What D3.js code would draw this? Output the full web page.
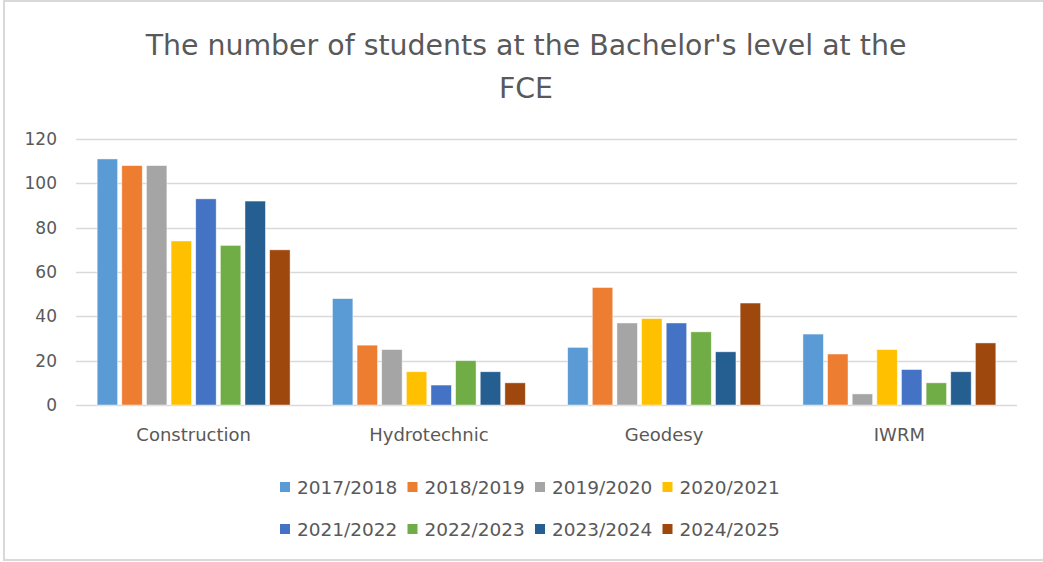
<!DOCTYPE html>
<html>
<head>
<meta charset="utf-8">
<script src="https://cdn.jsdelivr.net/npm/d3@7"></script>
<style>
  html, body { margin: 0; padding: 0; background: #fff; }
  svg text { font-family: "DejaVu Sans", sans-serif; fill: #595959; }
</style>
</head>
<body>
<div id="chart"></div>
<script>
(function() {
"use strict";

var categories = ["Construction", "Hydrotechnic", "Geodesy", "IWRM"];
var years = ["2017/2018", "2018/2019", "2019/2020", "2020/2021",
  "2021/2022", "2022/2023", "2023/2024", "2024/2025"];
// one list per year, values in category order
var v2017 = [111, 48, 26, 32];
var v2018 = [108, 27, 53, 23];
var v2019 = [108, 25, 37, 5];
var v2020 = [74, 15, 39, 25];
var v2021 = [93, 9, 37, 16];
var v2022 = [72, 20, 33, 10];
var v2023 = [92, 15, 24, 15];
var v2024 = [70, 10, 46, 28];
var yTicks = [0, 20, 40, 60, 80, 100, 120];
var colors = ["#5B9BD5", "#ED7D31", "#A5A5A5", "#FFC000",
  "#4472C4", "#70AD47", "#255E91", "#9E480E"];

var seriesValues = [v2017, v2018, v2019, v2020, v2021, v2022, v2023, v2024];

var W = 1043, H = 562;
var plot = {left: 76, right: 1017, top: 139, bottom: 405};

var svg = d3.select("#chart").append("svg")
  .attr("width", W)
  .attr("height", H);

// chart frame (right edge runs off the picture)
svg.append("rect")
  .attr("x", 4).attr("y", 1)
  .attr("width", 1050).attr("height", 559)
  .attr("fill", "#fff")
  .attr("stroke", "#d9d9d9")
  .attr("stroke-width", 2);

// title
var title = svg.append("text")
  .attr("text-anchor", "middle")
  .attr("font-size", 28.4);
title.append("tspan").attr("x", 526).attr("y", 55)
  .text("The number of students at the Bachelor's level at the");
title.append("tspan").attr("x", 526).attr("y", 98)
  .text("FCE");

var y = d3.scaleLinear().domain([0, 120]).range([plot.bottom, plot.top]);
var x0 = d3.scaleBand().domain(categories)
  .range([plot.left, plot.right])
  .paddingInner(0.18).paddingOuter(0.09);
var x1 = d3.scaleBand().domain(years)
  .range([0, x0.bandwidth()])
  .paddingInner(0.17).paddingOuter(0);

// gridlines
svg.append("g").selectAll("line")
  .data(yTicks)
  .enter().append("line")
  .attr("x1", plot.left).attr("x2", plot.right)
  .attr("y1", function(d) { return Math.round(y(d)) + 0.5; })
  .attr("y2", function(d) { return Math.round(y(d)) + 0.5; })
  .attr("stroke", "#d9d9d9")
  .attr("stroke-width", 1.5);

// y labels
svg.append("g").selectAll("text")
  .data(yTicks)
  .enter().append("text")
  .attr("x", 57)
  .attr("y", function(d) { return y(d); })
  .attr("dy", "0.36em")
  .attr("text-anchor", "end")
  .attr("font-size", 17)
  .text(function(d) { return d; });

// bars
var groups = svg.append("g").selectAll("g")
  .data(categories)
  .enter().append("g")
  .attr("transform", function(d) { return "translate(" + x0(d) + ",0)"; });

groups.selectAll("rect")
  .data(function(cat, ci) {
    return years.map(function(yr, si) {
      return {year: yr, value: seriesValues[si][ci], color: colors[si]};
    });
  })
  .enter().append("rect")
  .attr("x", function(d) { return x1(d.year); })
  .attr("y", function(d) { return y(d.value); })
  .attr("width", x1.bandwidth())
  .attr("height", function(d) { return y(0) - y(d.value); })
  .attr("fill", function(d) { return d.color; })
  .attr("stroke", "#fff")
  .attr("stroke-opacity", 0.6)
  .attr("stroke-width", 0.75);

// category labels
svg.append("g").selectAll("text")
  .data(categories)
  .enter().append("text")
  .attr("x", function(d) { return x0(d) + x0.bandwidth() / 2; })
  .attr("y", 441)
  .attr("text-anchor", "middle")
  .attr("font-size", 18)
  .text(function(d) { return d; });

// legend, two rows of four
var legend = svg.append("g").selectAll("g")
  .data(years)
  .enter().append("g")
  .attr("transform", function(d, i) {
    var col = i % 4, row = Math.floor(i / 4);
    return "translate(" + (280 + col * 127.5) + "," + (487 + row * 42) + ")";
  });
legend.append("rect")
  .attr("x", 0).attr("y", -5)
  .attr("width", 10).attr("height", 10)
  .attr("fill", function(d, i) { return colors[i]; });
legend.append("text")
  .attr("x", 17).attr("y", 0)
  .attr("dy", "0.36em")
  .attr("font-size", 18.5)
  .text(function(d) { return d; });

})();
</script>
</body>
</html>
